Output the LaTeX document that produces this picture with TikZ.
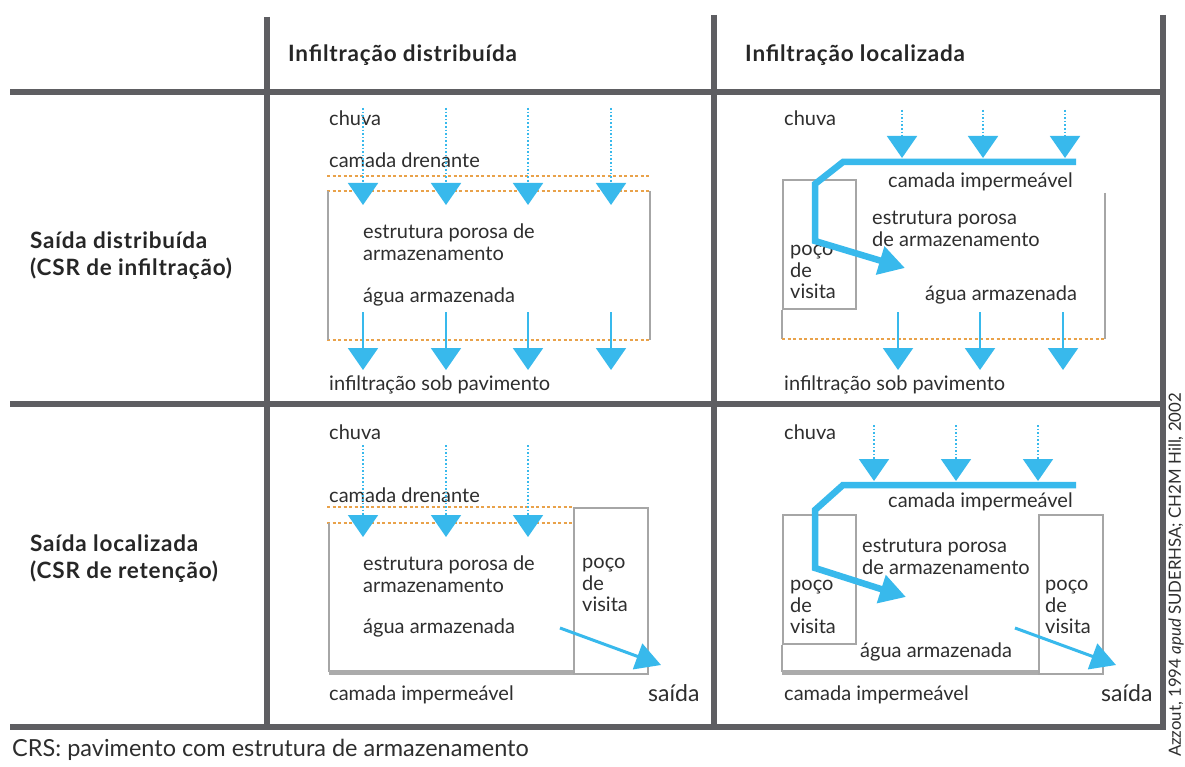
\documentclass[tikz,border=0pt]{standalone}
\usepackage{fontspec}
\setmainfont{Lato}
\usetikzlibrary{arrows.meta}
\definecolor{gridc}{HTML}{5E5E62}
\definecolor{wblue}{HTML}{38B9EC}
\definecolor{orng}{HTML}{E9A24A}
\definecolor{boxc}{HTML}{A6A6A6}
\definecolor{impc}{HTML}{ABABAB}
\definecolor{txtc}{HTML}{2E2E2E}
\begin{document}
\begin{tikzpicture}[x=1pt,y=-1pt,
  gridline/.style={draw=gridc,line width=6pt},
  lbl/.style={font=\fontsize{20}{21.7}\selectfont,text=txtc,inner sep=0pt,anchor=west,align=left},
  bigl/.style={font=\fontsize{23}{26}\selectfont,text=txtc,inner sep=0pt,anchor=west},
  hdr/.style={font=\bfseries\fontsize{22.5}{27}\selectfont\addfontfeature{LetterSpace=3.5},text=black!85,inner sep=0pt,anchor=west,align=left},
  rain/.style={draw=wblue,line width=1.8pt,dash pattern=on 1.6pt off 2pt,-{Triangle[width=30pt,length=22pt]}},
  seep/.style={draw=wblue,line width=2pt,-{Triangle[width=30pt,length=22pt]}},
  drain/.style={draw=orng,line width=2pt,dash pattern=on 3pt off 2.5pt},
  boxline/.style={draw=boxc,line width=1.6pt},
  imp/.style={draw=impc,line width=5pt},
  flow/.style={draw=wblue,line width=6.5pt,line join=miter,-{Triangle[width=28pt,length=26pt]}},
  outflow/.style={draw=wblue,line width=3pt,-{Triangle[width=27pt,length=25pt]}}]
\useasboundingbox[fill=white] (0,0) rectangle (1185,767);

% ---------- grid ----------
\draw[gridline] (267,17) -- (267,727);
\draw[gridline] (714,15) -- (714,727);
\draw[gridline] (1163,15) -- (1163,727);
\draw[gridline] (10,92) -- (1166,92);
\draw[gridline] (10,404) -- (1166,404);
\draw[gridline] (10,727) -- (1166,727);

% ---------- headers ----------
\node[hdr] (h1) at (288,55) {Infiltração distribuída};
\node[hdr] (h2) at (745,55) {Infiltração localizada};
\node[hdr] (r1) at (30,256) {Saída distribuída\\(CSR de infiltração)};
\node[hdr] (r2) at (30,559) {Saída localizada\\(CSR de retenção)};

% ---------- cell top-left ----------
\draw[drain] (327,176) -- (649,176);
\draw[drain] (327,191) -- (649,191);
\draw[drain] (327,340) -- (649,340);
\draw[boxline] (328,191) -- (328,340);
\draw[boxline] (650,191) -- (650,340);
\node[lbl] (tl-chuva) at (329,118) {chuva};
\node[lbl] (tl-dren) at (329,160) {camada drenante};
\node[lbl] (tl-est) at (363,242) {estrutura porosa de\\armazenamento};
\node[lbl] (tl-agua) at (363,297) {água armazenada};
\node[lbl] (tl-inf) at (329,385) {infiltração sob pavimento};
\foreach \i/\x in {1/363,2/446,3/528,4/611}{
  \coordinate (tl-r\i-s) at (\x,108);
  \coordinate (tl-r\i-e) at (\x,205);
  \draw[rain] (tl-r\i-s) -- (tl-r\i-e);
  \coordinate (tl-s\i-s) at (\x,312);
  \coordinate (tl-s\i-e) at (\x,370);
  \draw[seep] (tl-s\i-s) -- (tl-s\i-e);
}

% ---------- cell top-right ----------
\node[boxline,draw,minimum width=73pt,minimum height=129pt,inner sep=0pt,anchor=north west] (tr-poco) at (782,179) {};
\draw[boxline] (tr-poco.south west) -- (782,339);
\draw[boxline] (1105,193) -- (1105,339);
\draw[drain] (782,339) -- (1105,339);
\node[lbl] (tr-chuva) at (784,118) {chuva};
\node[lbl] (tr-imp) at (888,182) {camada impermeável};
\node[lbl] (tr-est) at (872,229) {estrutura porosa\\de armazenamento};
\node[lbl] (tr-pv) at (790,272) {poço\\de\\visita};
\node[lbl] (tr-agua) at (925,295) {água armazenada};
\node[lbl] (tr-inf) at (784,385) {infiltração sob pavimento};
\foreach \i/\x in {1/902,2/983,3/1065}{
  \coordinate (tr-r\i-s) at (\x,110);
  \coordinate (tr-r\i-e) at (\x,158);
  \draw[rain] (tr-r\i-s) -- (tr-r\i-e);
}
\foreach \i/\x in {1/898,2/980,3/1063}{
  \coordinate (tr-s\i-s) at (\x,312);
  \coordinate (tr-s\i-e) at (\x,370);
  \draw[seep] (tr-s\i-s) -- (tr-s\i-e);
}
\coordinate (tr-f-s) at (1076,162);
\coordinate (tr-f-e) at (905,268);
\draw[flow] (tr-f-s) -- (843,162) -- (815,184) -- (815,241) -- (tr-f-e);

% ---------- cell bottom-left ----------
\draw[drain] (327,507) -- (572,507);
\draw[drain] (327,523) -- (572,523);
\draw[boxline] (329,523) -- (329,672);
\node[boxline,draw,minimum width=74pt,minimum height=166pt,inner sep=0pt,anchor=north west] (bl-poco) at (573,507) {};
\draw[imp] (329,672) -- (573,672);
\node[lbl] (bl-chuva) at (329,432) {chuva};
\node[lbl] (bl-dren) at (329,495) {camada drenante};
\node[lbl] (bl-est) at (363,574) {estrutura porosa de\\armazenamento};
\node[lbl] (bl-pv) at (582,585) {poço\\de\\visita};
\node[lbl] (bl-agua) at (363,628) {água armazenada};
\node[lbl] (bl-imp) at (329,695) {camada impermeável};
\node[bigl] (bl-said) at (648,693) {saída};
\foreach \i/\x in {1/363,2/446,3/528}{
  \coordinate (bl-r\i-s) at (\x,445);
  \coordinate (bl-r\i-e) at (\x,537);
  \draw[rain] (bl-r\i-s) -- (bl-r\i-e);
}
\coordinate (bl-o-s) at (560,628);
\coordinate (bl-o-e) at (661,665);
\draw[outflow] (bl-o-s) -- (bl-o-e);

% ---------- cell bottom-right ----------
\node[boxline,draw,minimum width=73pt,minimum height=129pt,inner sep=0pt,anchor=north west] (br-poco1) at (782,514) {};
\draw[boxline] (br-poco1.south west) -- (782,672);
\node[boxline,draw,minimum width=64pt,minimum height=159pt,inner sep=0pt,anchor=north west] (br-poco2) at (1038,514) {};
\draw[imp] (782,672) -- (1038,672);
\node[lbl] (br-chuva) at (784,432) {chuva};
\node[lbl] (br-imp) at (888,502) {camada impermeável};
\node[lbl] (br-est) at (862,557) {estrutura porosa\\de armazenamento};
\node[lbl] (br-pv1) at (790,607) {poço\\de\\visita};
\node[lbl] (br-pv2) at (1045,607) {poço\\de\\visita};
\node[lbl] (br-agua) at (860,652) {água armazenada};
\node[lbl] (br-imp2) at (784,695) {camada impermeável};
\node[bigl] (br-said) at (1101,693) {saída};
\foreach \i/\x in {1/874,2/956,3/1038}{
  \coordinate (br-r\i-s) at (\x,425);
  \coordinate (br-r\i-e) at (\x,481);
  \draw[rain] (br-r\i-s) -- (br-r\i-e);
}
\coordinate (br-f-s) at (1076,485);
\coordinate (br-f-e) at (906,597);
\draw[flow] (br-f-s) -- (843,485) -- (815,510) -- (815,568) -- (br-f-e);
\coordinate (br-o-s) at (1015,628);
\coordinate (br-o-e) at (1116,665);
\draw[outflow] (br-o-s) -- (br-o-e);

% ---------- footer and credit ----------
\node[font=\fontsize{23.5}{27}\selectfont,text=txtc,inner sep=0pt,anchor=west] (foot) at (12,750) {CRS: pavimento com estrutura de armazenamento};
\node[font=\fontsize{16.8}{20}\selectfont,text=txtc,inner sep=0pt,rotate=90] (credit) at (1176,575) {Azzout, 1994 \textit{apud} SUDERHSA; CH2M Hill, 2002};
\end{tikzpicture}
\end{document}
